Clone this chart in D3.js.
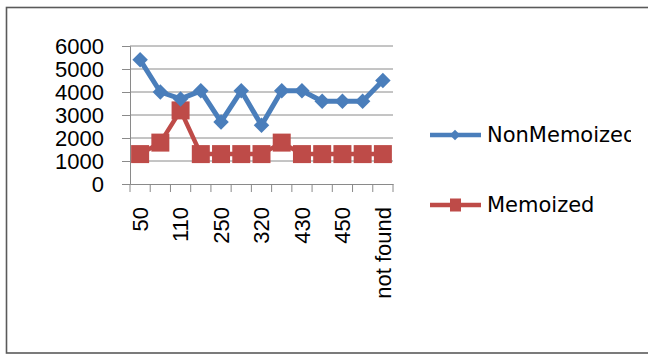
<!DOCTYPE html>
<html>
<head>
<meta charset="utf-8">
<script src="https://cdn.jsdelivr.net/npm/d3@7"></script>
<style>
  html, body { margin: 0; padding: 0; background: #fff; }
  svg { display: block; }
</style>
</head>
<body>
<svg id="chart" width="648" height="356"></svg>
<script>
// Search key per run; only every second label is printed on the axis
const categoryLabels = ["50", "", "110", "", "250", "", "320", "", "430", "", "450", "", "not found"];
const nonMemoized = [5400, 4000, 3700, 4050, 2700, 4050, 2550, 4050, 4050, 3600, 3600, 3600, 4500];
const memoized    = [1300, 1800, 3200, 1300, 1300, 1300, 1300, 1800, 1300, 1300, 1300, 1300, 1300];
const yTicks = [0, 1000, 2000, 3000, 4000, 5000, 6000];
const seriesNames = ["NonMemoized", "Memoized"];

const svg = d3.select("#chart");
const plot = { left: 130, right: 393, top: 46, bottom: 184 };
const gridColor = "#8a8a8a";
const blue = "#4a7ebb", red = "#be4b48";

// outer chart frame
svg.append("rect")
  .attr("x", 6.5).attr("y", 7.5)
  .attr("width", 680).attr("height", 345.5)
  .attr("fill", "#fff").attr("stroke", "#5a5a5a").attr("stroke-width", 1.6);

const idx = d3.range(categoryLabels.length);
const x = d3.scaleBand().domain(idx).range([plot.left, plot.right]);
const y = d3.scaleLinear().domain([0, 6000]).range([plot.bottom, plot.top]);

// horizontal gridlines
svg.append("g").selectAll("line").data(yTicks.slice(1)).join("line")
  .attr("x1", plot.left).attr("x2", plot.right)
  .attr("y1", d => y(d)).attr("y2", d => y(d))
  .attr("stroke", gridColor).attr("stroke-width", 1);

// y axis
const yAxis = svg.append("g").attr("transform", `translate(${plot.left},0)`)
  .call(d3.axisLeft(y).tickValues(yTicks).tickSize(8).tickPadding(18).tickFormat(d3.format("d")));
yAxis.select(".domain").attr("stroke", gridColor);
yAxis.selectAll(".tick line").attr("stroke", gridColor);
yAxis.selectAll("text")
  .attr("font-family", "'Liberation Sans', Arial, sans-serif")
  .attr("font-size", 22).attr("fill", "#000");

// x axis: labels under category centres, tick marks on category boundaries
const xAxis = svg.append("g").attr("transform", `translate(0,${plot.bottom})`)
  .call(d3.axisBottom(x).tickSize(0).tickFormat(i => categoryLabels[i]));
xAxis.select(".domain").attr("stroke", gridColor);
xAxis.selectAll("text")
  .attr("transform", "rotate(-90)")
  .attr("text-anchor", "end")
  .attr("x", -23).attr("y", 0).attr("dy", "0.36em")
  .attr("font-family", "'Liberation Sans', Arial, sans-serif")
  .attr("font-size", 22).attr("fill", "#000");
const bounds = idx.map(i => x(i)).concat([x(idx[idx.length - 1]) + x.bandwidth()]);
xAxis.append("g").selectAll("line").data(bounds).join("line")
  .attr("x1", d => d).attr("x2", d => d)
  .attr("y1", 0).attr("y2", 8)
  .attr("stroke", gridColor);

const cx = i => x(i) + x.bandwidth() / 2;
const line = d3.line().x((d, i) => cx(i)).y(d => y(d));

// Memoized series (drawn first, sits beneath)
svg.append("path").datum(memoized)
  .attr("d", line).attr("fill", "none")
  .attr("stroke", red).attr("stroke-width", 4.5).attr("stroke-linejoin", "round");
svg.append("g").selectAll("rect").data(memoized).join("rect")
  .attr("x", (d, i) => cx(i) - 9).attr("y", d => y(d) - 9)
  .attr("width", 18).attr("height", 18).attr("fill", red);

// NonMemoized series
svg.append("path").datum(nonMemoized)
  .attr("d", line).attr("fill", "none")
  .attr("stroke", blue).attr("stroke-width", 5).attr("stroke-linejoin", "round");
const diamond = d3.symbol().type(d3.symbolSquare).size(120);
svg.append("g").selectAll("path").data(nonMemoized).join("path")
  .attr("d", diamond)
  .attr("transform", (d, i) => `translate(${cx(i)},${y(d)}) rotate(45)`)
  .attr("fill", blue);

// legend
const legend = svg.append("g");
const legY = [135, 205];
const colors = [blue, red];
seriesNames.forEach((name, k) => {
  const g = legend.append("g").attr("transform", `translate(0,${legY[k]})`);
  g.append("line").attr("x1", 430).attr("x2", 481).attr("y1", 0).attr("y2", 0)
    .attr("stroke", colors[k]).attr("stroke-width", 4.5);
  if (k === 0) {
    g.append("path").attr("d", d3.symbol().type(d3.symbolSquare).size(56))
      .attr("transform", "translate(455,0) rotate(45)").attr("fill", blue);
  } else {
    g.append("rect").attr("x", 450).attr("y", -6.5).attr("width", 11).attr("height", 13).attr("fill", red);
  }
  g.append("text").attr("x", 487).attr("y", 7)
    .attr("font-family", "'DejaVu Sans', sans-serif")
    .attr("font-size", 21).attr("fill", "#000")
    .text(name);
});
// legend text is cut at the legend box edge
const clip = svg.append("clipPath").attr("id", "legclip");
clip.append("rect").attr("x", 420).attr("y", 100).attr("width", 211).attr("height", 140);
legend.attr("clip-path", "url(#legclip)");
</script>
</body>
</html>
